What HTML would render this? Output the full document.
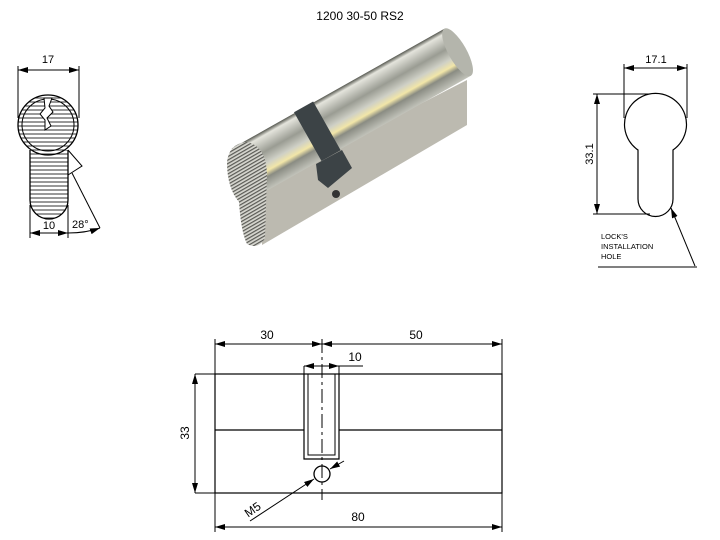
<!DOCTYPE html>
<html><head><meta charset="utf-8"><style>
html,body{margin:0;padding:0;background:#fff;}
svg{display:block;font-family:"Liberation Sans",sans-serif;}
</style></head><body>
<svg width="720" height="540" viewBox="0 0 720 540" xmlns="http://www.w3.org/2000/svg">
<defs>
<marker id="a" viewBox="0 0 10 6" refX="10" refY="3" markerWidth="10" markerHeight="6" orient="auto-start-reverse" markerUnits="userSpaceOnUse"><path d="M0,0L10,3L0,6z" fill="#000"/></marker>
<linearGradient id="cyl" x1="0" y1="0" x2="0" y2="1">
<stop offset="0" stop-color="#55574f"/><stop offset="0.08" stop-color="#e4e4dc"/><stop offset="0.35" stop-color="#9a9c93"/><stop offset="0.55" stop-color="#cfd0c6"/><stop offset="0.68" stop-color="#f2e6a8"/><stop offset="0.78" stop-color="#8a8c83"/><stop offset="1" stop-color="#c2c3ba"/>
</linearGradient>
<pattern id="rib" width="3" height="3" patternUnits="userSpaceOnUse" patternTransform="rotate(-30)"><rect width="3" height="3" fill="#d6d6cf"/><rect width="3" height="1.2" fill="#5a5a55"/></pattern>
<pattern id="hr" width="4" height="4" patternUnits="userSpaceOnUse"><rect width="4" height="4" fill="#fff"/><rect y="1.5" width="4" height="1" fill="#333"/></pattern>
</defs>
<text x="360" y="20" font-size="12" text-anchor="middle">1200 30-50 RS2</text>

<!-- Left end view -->
<g stroke="#000" stroke-width="1" fill="none">
<line x1="18" y1="66" x2="18" y2="118"/><line x1="79" y1="66" x2="79" y2="118"/>
<line x1="18" y1="70" x2="79" y2="70" marker-start="url(#a)" marker-end="url(#a)"/>
<path d="M30,150 L30,200 A19,19 0 0 0 68,200 L68,150" fill="url(#hr)" stroke-width="1.3"/>
<circle cx="48" cy="125" r="30" fill="url(#hr)" stroke-width="1.3"/>
<circle cx="48" cy="125" r="26"/>
<path d="M44,98 L52,98 L49,106 L53,112 L47,118 L51,126 L45,130 L45,120 L40,114 L45,108 Z" fill="#fff"/>
<line x1="30" y1="205" x2="30" y2="238"/><line x1="68" y1="205" x2="68" y2="238"/>
<line x1="30" y1="233" x2="68" y2="233" marker-start="url(#a)" marker-end="url(#a)"/>
<path d="M68,150 L82,166 L68,175"/>
<line x1="72" y1="173" x2="100" y2="228"/>
<path d="M68,233 Q86,233 100,228" marker-end="url(#a)"/>
</g>
<text x="48" y="63" font-size="11" text-anchor="middle">17</text>
<text x="49" y="229" font-size="11" text-anchor="middle">10</text>
<text x="72" y="228" font-size="11">28°</text>

<!-- 3D view -->
<polygon points="262,185 467,80 467,125 262,245" fill="#bcbab0"/>
<g transform="translate(245,172) rotate(-29.4)">
<rect x="0" y="-27" width="244" height="54" fill="url(#cyl)"/>
<ellipse cx="244" cy="0" rx="9" ry="27" fill="#b4b5ac"/>
<rect x="72" y="-28" width="22" height="56" fill="#3c4346"/>
</g>
<path d="M227,162 Q229,144 246,142 Q266,145 267,174 L265,238 Q259,250 247,244 Q241,232 239,202 Q227,188 227,162Z" fill="url(#rib)"/>
<path d="M316,164 L342,150 L352,168 L328,188 L318,180 Z" fill="#3c4346"/>
<circle cx="336" cy="194" r="4" fill="#333"/>

<!-- Right keyhole view -->
<g stroke="#000" stroke-width="1" fill="none">
<line x1="624" y1="64" x2="624" y2="118"/><line x1="687" y1="64" x2="687" y2="118"/>
<line x1="624" y1="68" x2="687" y2="68" marker-start="url(#a)" marker-end="url(#a)"/>
<path d="M638,150 A31,31 0 1 1 673,150 L673,199 A17.5,17.5 0 0 1 638,199 Z" stroke-width="1.2"/>
<line x1="593" y1="94" x2="650" y2="94"/><line x1="593" y1="214" x2="650" y2="214"/>
<line x1="597" y1="94" x2="597" y2="214" marker-start="url(#a)" marker-end="url(#a)"/>
<line x1="695" y1="266" x2="671" y2="208" marker-end="url(#a)"/>
<line x1="598" y1="267" x2="697" y2="267"/>
</g>
<text x="656" y="63" font-size="11" text-anchor="middle">17.1</text>
<text transform="translate(593,154) rotate(-90)" font-size="11" text-anchor="middle">33.1</text>
<text x="601" y="239" font-size="7.5">LOCK'S</text>
<text x="601" y="249" font-size="7.5">INSTALLATION</text>
<text x="601" y="259" font-size="7.5">HOLE</text>

<!-- Bottom front view -->
<g stroke="#000" stroke-width="1" fill="none">
<line x1="215" y1="339" x2="215" y2="532"/><line x1="502" y1="339" x2="502" y2="532"/>
<line x1="322" y1="339" x2="322" y2="500" stroke-dasharray="14,4,3,4"/>
<line x1="215" y1="344" x2="322" y2="344" marker-start="url(#a)" marker-end="url(#a)"/>
<line x1="322" y1="344" x2="502" y2="344" marker-start="url(#a)" marker-end="url(#a)"/>
<line x1="304" y1="366" x2="339" y2="366" marker-start="url(#a)" marker-end="url(#a)"/>
<line x1="339" y1="366" x2="363" y2="366"/>
<line x1="304" y1="366" x2="304" y2="374"/><line x1="339" y1="366" x2="339" y2="374"/>
<rect x="215" y="374" width="287" height="119" stroke-width="1.2"/>
<line x1="215" y1="430" x2="304" y2="430" stroke-width="1.2"/><line x1="339" y1="430" x2="502" y2="430" stroke-width="1.2"/>
<path d="M304,374 L304,459 L339,459 L339,374" stroke-width="1.2"/>
<path d="M308,374 L308,455 L335,455 L335,374"/>
<circle cx="322" cy="474" r="8" stroke-width="1.3"/>
<line x1="195" y1="374" x2="215" y2="374"/><line x1="195" y1="493" x2="215" y2="493"/>
<line x1="195" y1="374" x2="195" y2="493" marker-start="url(#a)" marker-end="url(#a)"/>
<line x1="215" y1="527" x2="502" y2="527" marker-start="url(#a)" marker-end="url(#a)"/>
<line x1="250" y1="521" x2="314" y2="479" marker-end="url(#a)"/>
<line x1="344" y1="461" x2="330" y2="469" marker-end="url(#a)"/>
</g>
<text x="267" y="339" font-size="12" text-anchor="middle">30</text>
<text x="416" y="339" font-size="12" text-anchor="middle">50</text>
<text x="355" y="361" font-size="12" text-anchor="middle">10</text>
<text transform="translate(189,433) rotate(-90)" font-size="12" text-anchor="middle">33</text>
<text x="358" y="521" font-size="12" text-anchor="middle">80</text>
<text transform="translate(255,513) rotate(-35)" font-size="12" text-anchor="middle">M5</text>
</svg>
</body></html>
